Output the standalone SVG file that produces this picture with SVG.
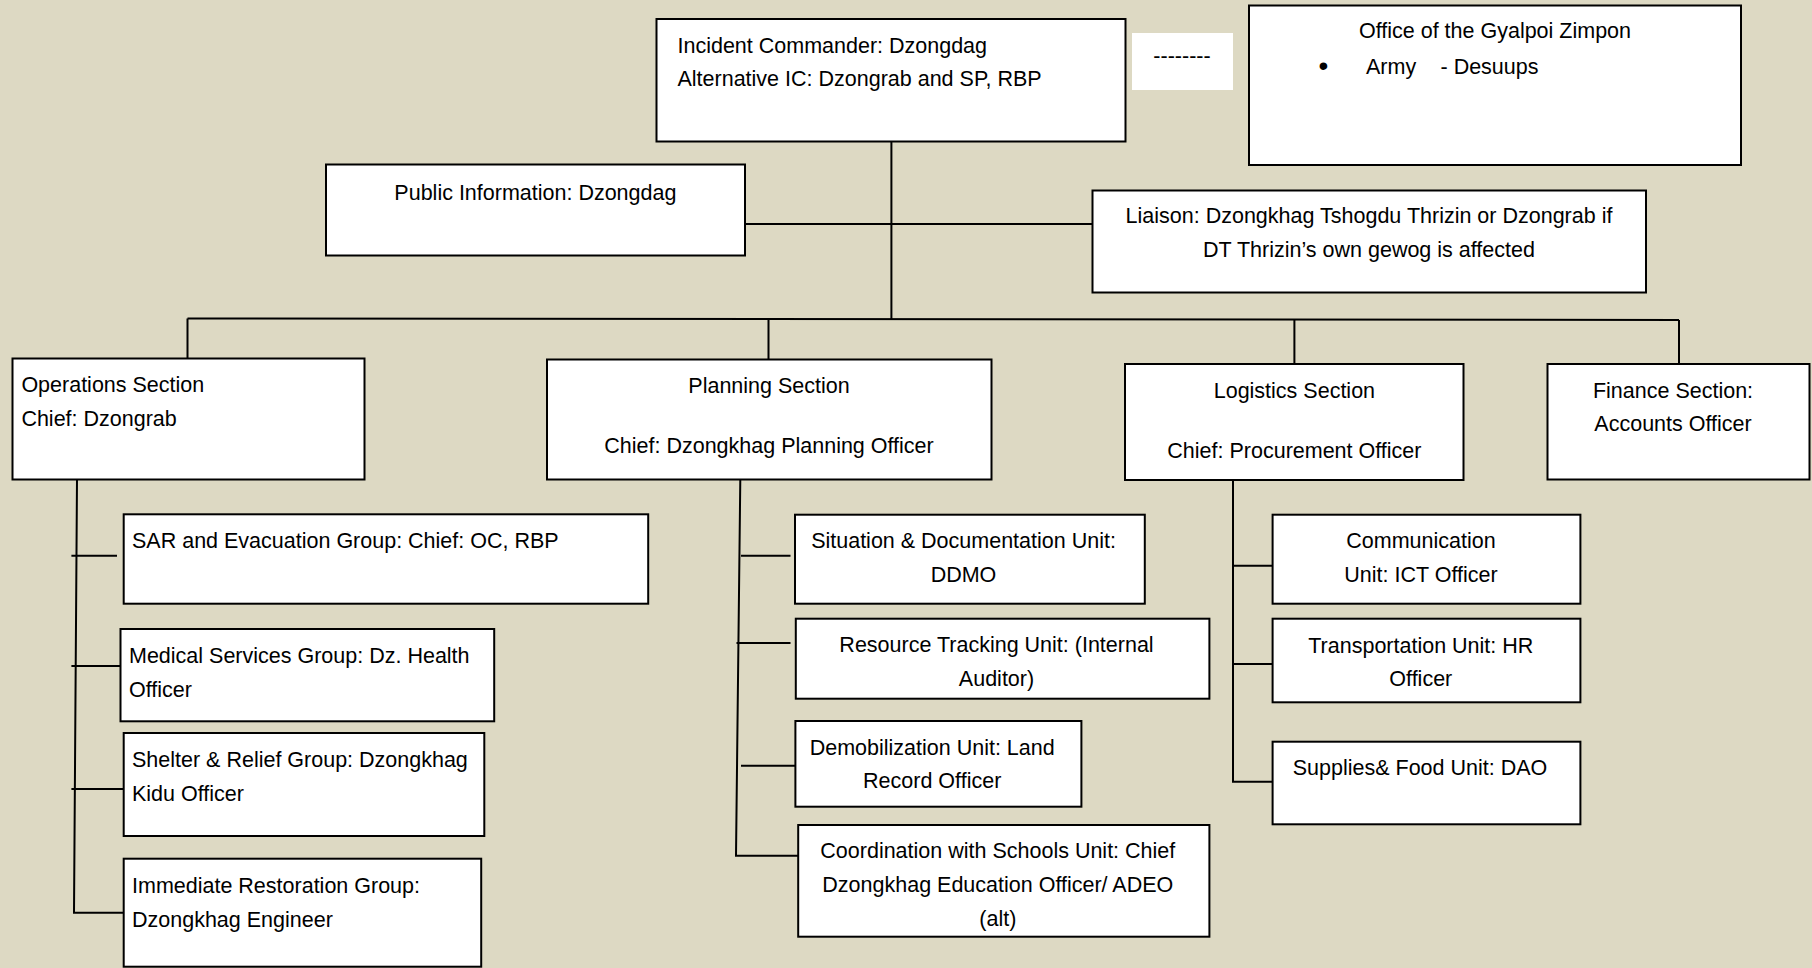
<svg xmlns="http://www.w3.org/2000/svg" width="1812" height="968" viewBox="0 0 1812 968">
<style>
.box{fill:#fff;stroke:#000;stroke-width:2}
.ln{stroke:#000;stroke-width:2;fill:none}
text{font-family:"Liberation Sans",Arial,sans-serif;font-size:21.5px;fill:#000}
.c{text-anchor:middle}
</style>
<rect x="0" y="0" width="1812" height="968" fill="#DDD9C3"/>
<g id="connectors">
<path class="ln" d="M891.4 141.7 V319"/>
<path class="ln" d="M745 224 H1092.5"/>
<path class="ln" d="M187.5 318.5 L1679 320"/>
<path class="ln" d="M187.5 318.5 V358.5 M768.5 319 V359.5 M1294.4 319.5 V364 M1679 320 V364"/>
<path class="ln" d="M77 479.3 L74 912.7 H123.7"/>
<path class="ln" d="M71.4 555.7 H117 M71.4 666 H120.5 M71.4 789 H123.7"/>
<path class="ln" d="M740.3 479.6 L736 855.7 H798.2"/>
<path class="ln" d="M741 555.7 H790.5 M736.5 643 H790.5 M741 765.7 H795.4"/>
<path class="ln" d="M1233 480 V781.7 H1272.6"/>
<path class="ln" d="M1233 565.7 H1272.6 M1233 664 H1272.6"/>
</g>
<g id="ic">
<rect class="box" x="656.5" y="19" width="469" height="122.5"/>
<text x="677.5" y="53.3">Incident Commander: Dzongdag</text>
<text x="677.5" y="86">Alternative IC: Dzongrab and SP, RBP</text>
</g>
<g id="dash">
<rect x="1132" y="33" width="101" height="57" fill="#fff"/>
<text class="c" x="1182" y="63">--------</text>
</g>
<g id="gyalpoi">
<rect class="box" x="1249" y="5.5" width="492" height="159.5"/>
<text class="c" x="1495" y="38.3">Office of the Gyalpoi Zimpon</text>
<text class="c" x="1323.5" y="75" style="font-size:28px">•</text>
<text x="1366" y="74">Army</text>
<text x="1440.5" y="74">- Desuups</text>
</g>
<g id="public-info">
<rect class="box" x="326" y="164.5" width="419" height="91"/>
<text class="c" x="535.4" y="200">Public Information: Dzongdag</text>
</g>
<g id="liaison">
<rect class="box" x="1092.5" y="190.5" width="553.5" height="102"/>
<text class="c" x="1369" y="223.3">Liaison: Dzongkhag Tshogdu Thrizin or Dzongrab if</text>
<text class="c" x="1369" y="257.3">DT Thrizin’s own gewog is affected</text>
</g>
<g id="operations">
<rect class="box" x="12.5" y="358.5" width="352" height="121"/>
<text x="21.4" y="391.7">Operations Section</text>
<text x="21.4" y="426">Chief: Dzongrab</text>
</g>
<g id="planning">
<rect class="box" x="547" y="359.5" width="444.5" height="120"/>
<text class="c" x="769" y="393.3">Planning Section</text>
<text class="c" x="769" y="453.3">Chief: Dzongkhag Planning Officer</text>
</g>
<g id="logistics">
<rect class="box" x="1125" y="364" width="338.5" height="116"/>
<text class="c" x="1294.4" y="398.3">Logistics Section</text>
<text class="c" x="1294.4" y="458.3">Chief: Procurement Officer</text>
</g>
<g id="finance">
<rect class="box" x="1547.5" y="364" width="262" height="115.5"/>
<text class="c" x="1673" y="398.3">Finance Section:</text>
<text class="c" x="1673" y="430.7">Accounts Officer</text>
</g>
<g id="sar">
<rect class="box" x="123.7" y="514.3" width="524.5" height="89.4"/>
<text x="132" y="548.3">SAR and Evacuation Group: Chief: OC, RBP</text>
</g>
<g id="medical">
<rect class="box" x="120.5" y="629" width="373.7" height="92.3"/>
<text x="129" y="663.3">Medical Services Group: Dz. Health</text>
<text x="129" y="697.3">Officer</text>
</g>
<g id="shelter">
<rect class="box" x="123.7" y="733" width="360.6" height="103"/>
<text x="132" y="767.3">Shelter &amp; Relief Group: Dzongkhag</text>
<text x="132" y="801">Kidu Officer</text>
</g>
<g id="restoration">
<rect class="box" x="123.7" y="858.7" width="357.5" height="108"/>
<text x="132" y="893.3">Immediate Restoration Group:</text>
<text x="132" y="927.3">Dzongkhag Engineer</text>
</g>
<g id="situation">
<rect class="box" x="795" y="514.7" width="349.8" height="89"/>
<text class="c" x="963.5" y="548.3">Situation &amp; Documentation Unit:</text>
<text class="c" x="963.5" y="581.7">DDMO</text>
</g>
<g id="resource">
<rect class="box" x="795.8" y="618.7" width="413.6" height="80"/>
<text class="c" x="996.5" y="652.3">Resource Tracking Unit: (Internal</text>
<text class="c" x="996.5" y="685.7">Auditor)</text>
</g>
<g id="demobilization">
<rect class="box" x="795.4" y="721" width="286" height="85.7"/>
<text class="c" x="932.2" y="755.3">Demobilization Unit: Land</text>
<text class="c" x="932.2" y="788">Record Officer</text>
</g>
<g id="coordination">
<rect class="box" x="798.2" y="825" width="411.2" height="111.7"/>
<text class="c" x="997.8" y="858.3">Coordination with Schools Unit: Chief</text>
<text class="c" x="997.8" y="892.3">Dzongkhag Education Officer/ ADEO</text>
<text class="c" x="997.8" y="925.7">(alt)</text>
</g>
<g id="communication">
<rect class="box" x="1272.6" y="514.7" width="307.8" height="89"/>
<text class="c" x="1421" y="548.3">Communication</text>
<text class="c" x="1421" y="581.7">Unit: ICT Officer</text>
</g>
<g id="transportation">
<rect class="box" x="1272.6" y="618.7" width="307.8" height="83.6"/>
<text class="c" x="1420.8" y="652.7">Transportation Unit: HR</text>
<text class="c" x="1420.8" y="685.7">Officer</text>
</g>
<g id="supplies">
<rect class="box" x="1272.6" y="741.7" width="307.8" height="82.6"/>
<text class="c" x="1420" y="775">Supplies&amp; Food Unit: DAO</text>
</g>
</svg>
